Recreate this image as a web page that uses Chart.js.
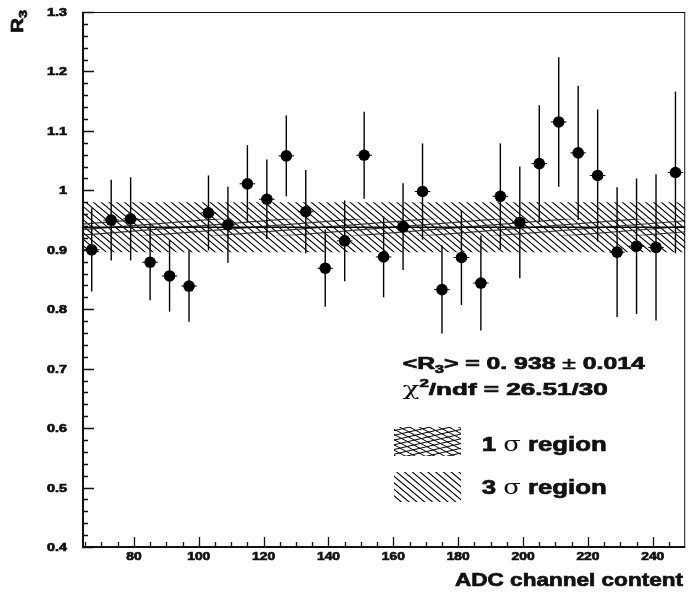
<!DOCTYPE html>
<html>
<head>
<meta charset="utf-8">
<script src="https://cdn.jsdelivr.net/npm/chart.js@4.4.1/dist/chart.umd.min.js"></script>
<style>
  html, body { margin: 0; padding: 0; background: #fff; }
  canvas { display: block; }
</style>
</head>
<body>
<canvas id="myChart" width="691" height="594"></canvas>
<script>
// ADC bins (centres) and R3 ratio with its error
const adcChannel = [67, 73, 79, 85, 91, 97, 103, 109, 115, 121, 127, 133, 139, 145, 151, 157,
    163, 169, 175, 181, 187, 193, 199, 205, 211, 217, 223, 229, 235, 241, 247];
const r3 = [0.900, 0.950, 0.952, 0.879, 0.856, 0.839, 0.962, 0.942, 1.011, 0.985, 1.058, 0.964,
    0.869, 0.915, 1.059, 0.888, 0.939, 0.998, 0.833, 0.887, 0.844, 0.990, 0.946, 1.045,
    1.115, 1.063, 1.025, 0.896, 0.906, 0.904, 1.030];
const r3Err = [0.070, 0.068, 0.070, 0.064, 0.060, 0.060, 0.063, 0.064, 0.065, 0.067, 0.068, 0.070,
    0.065, 0.068, 0.073, 0.068, 0.073, 0.081, 0.074, 0.080, 0.080, 0.089, 0.094, 0.098,
    0.109, 0.113, 0.111, 0.109, 0.114, 0.123, 0.136];
const binHalf = 2.4;
const fitMean = 0.938;
const fitErr = 0.014;
const xTicks = [80, 100, 120, 140, 160, 180, 200, 220, 240];
const yTicks = [0.4, 0.5, 0.6, 0.7, 0.8, 0.9, 1, 1.1, 1.2, 1.3];

const FONT = '"Liberation Sans", Arial, sans-serif';

// draw a run of text pieces [text, font, dy], stretched horizontally by sx
function drawParts(ctx, parts, x, y, sx) {
    let cx = x;
    parts.forEach(p => {
        ctx.font = p[1];
        const w = ctx.measureText(p[0]).width;
        ctx.save();
        ctx.translate(cx, y + (p[2] || 0));
        ctx.scale(sx, 1);
        ctx.textAlign = 'left';
        ctx.fillText(p[0], 0, 0);
        if (p[3] !== false) {
            ctx.lineWidth = 0.7;
            ctx.strokeText(p[0], 0, 0);
        }
        ctx.restore();
        cx += w * sx;
    });
}
function partsWidth(ctx, parts) {
    let w = 0;
    parts.forEach(p => { ctx.font = p[1]; w += ctx.measureText(p[0]).width; });
    return w;
}
function fitParts(ctx, parts, x, y, width) {
    drawParts(ctx, parts, x, y, width / partsWidth(ctx, parts));
}

function hatch(ctx, x0, y0, x1, y1, angleDeg, gap, color, lw) {
    const a = angleDeg * Math.PI / 180;
    const dx = Math.cos(a), dy = Math.sin(a);
    const nx = -dy, ny = dx;
    const cx = (x0 + x1) / 2, cy = (y0 + y1) / 2;
    const diag = Math.hypot(x1 - x0, y1 - y0);
    ctx.save();
    ctx.beginPath();
    ctx.rect(x0, y0, x1 - x0, y1 - y0);
    ctx.clip();
    ctx.strokeStyle = color;
    ctx.lineWidth = lw;
    ctx.beginPath();
    for (let t = -diag / 2; t <= diag / 2; t += gap) {
        const px = cx + nx * t, py = cy + ny * t;
        ctx.moveTo(px - dx * diag, py - dy * diag);
        ctx.lineTo(px + dx * diag, py + dy * diag);
    }
    ctx.stroke();
    ctx.restore();
}

const bandsAndErrors = {
    id: 'bandsAndErrors',
    beforeDatasetsDraw(chart) {
        const ctx = chart.ctx;
        const xs = chart.scales.x, ys = chart.scales.y;
        const a = chart.chartArea;
        // 3 sigma band
        const t3 = ys.getPixelForValue(fitMean + 3 * fitErr);
        const b3 = ys.getPixelForValue(fitMean - 3 * fitErr);
        hatch(ctx, a.left, t3, a.right, b3, 40, 5, '#000', 1.1);
        // 1 sigma band
        const t1 = ys.getPixelForValue(fitMean + fitErr);
        const b1 = ys.getPixelForValue(fitMean - fitErr);
        hatch(ctx, a.left, t1, a.right, b1, -4.5, 5.5, '#333', 1.2);
        ctx.save();
        ctx.strokeStyle = '#000';
        ctx.lineWidth = 1.6;
        const m = ys.getPixelForValue(fitMean);
        ctx.beginPath();
        ctx.moveTo(a.left, m);
        ctx.lineTo(a.right, m);
        ctx.stroke();
        // error bars
        ctx.strokeStyle = '#000';
        adcChannel.forEach((x, i) => {
            const px = xs.getPixelForValue(x);
            const py = ys.getPixelForValue(r3[i]);
            ctx.lineWidth = 1.4;
            ctx.beginPath();
            ctx.moveTo(px, ys.getPixelForValue(r3[i] + r3Err[i]));
            ctx.lineTo(px, ys.getPixelForValue(r3[i] - r3Err[i]));
            ctx.stroke();
            ctx.lineWidth = 1;
            ctx.beginPath();
            ctx.moveTo(xs.getPixelForValue(x - binHalf), py);
            ctx.lineTo(xs.getPixelForValue(x + binHalf), py);
            ctx.stroke();
        });
        ctx.restore();
    },
    afterDraw(chart) {
        const ctx = chart.ctx;
        const xs = chart.scales.x, ys = chart.scales.y;
        const a = chart.chartArea;
        ctx.save();
        ctx.fillStyle = '#111';
        ctx.strokeStyle = '#111';
        // frame
        ctx.lineWidth = 1;
        ctx.strokeRect(a.left + 0.5, a.top + 0.5, a.right - a.left - 1, a.bottom - a.top - 1);
        ctx.lineWidth = 2;
        ctx.beginPath();
        ctx.moveTo(a.left + 1, a.top);
        ctx.lineTo(a.left + 1, a.bottom);
        ctx.lineTo(a.right, a.bottom);
        ctx.stroke();
        // y ticks (inside)
        ctx.lineWidth = 1.3;
        ctx.beginPath();
        for (let v = 0.4; v <= 1.3001; v += 0.02) {
            const py = Math.round(ys.getPixelForValue(v)) + 0.5;
            const major = Math.abs(v * 10 - Math.round(v * 10)) < 1e-6;
            ctx.moveTo(a.left, py);
            ctx.lineTo(a.left + (major ? 12 : 6), py);
        }
        ctx.stroke();
        // x ticks (inside)
        ctx.beginPath();
        for (let v = 65; v < 250; v += 5) {
            const px = Math.round(xs.getPixelForValue(v)) + 0.5;
            const major = v % 20 === 0;
            ctx.moveTo(px, a.bottom);
            ctx.lineTo(px, a.bottom - (major ? 10 : 5));
        }
        ctx.stroke();
        // tick labels
        ctx.textBaseline = 'middle';
        yTicks.forEach(v => {
            const txt = String(v);
            ctx.font = 'bold 11px ' + FONT;
            const w = ctx.measureText(txt).width * 1.3;
            drawParts(ctx, [[txt, 'bold 11px ' + FONT]], 67 - w, ys.getPixelForValue(v) + 1, 1.3);
        });
        xTicks.forEach(v => {
            const txt = String(v);
            ctx.font = 'bold 11.5px ' + FONT;
            const w = ctx.measureText(txt).width * 1.2;
            drawParts(ctx, [[txt, 'bold 11.5px ' + FONT]], xs.getPixelForValue(v) - w / 2, 557, 1.2);
        });
        ctx.textBaseline = 'alphabetic';
        // axis titles
        fitParts(ctx, [['ADC channel content', 'bold 18.5px ' + FONT]], 455, 586, 228);
        ctx.save();
        ctx.translate(23, 33);
        ctx.rotate(-Math.PI / 2);
        fitParts(ctx, [['R', 'bold 16px ' + FONT], ['3', 'bold 11px ' + FONT, 3.5]], 0, 0, 23);
        ctx.restore();
        // fit result
        fitParts(ctx, [['<R', 'bold 17px ' + FONT], ['3', 'bold 11px ' + FONT, 4],
            ['> = 0. 938 ', 'bold 17px ' + FONT], ['\u00b1', '17px ' + FONT],
            [' 0.014', 'bold 17px ' + FONT]], 402.7, 369, 242);
        fitParts(ctx, [['\u03c7', '18px "DejaVu Serif", serif', 0, false], ['2', 'bold 11px ' + FONT, -8],
            ['/ndf = 26.51/30', 'bold 17px ' + FONT]], 402.7, 395, 205);
        // legend
        const l1 = [394, 427, 461, 456];
        hatch(ctx, l1[0], l1[1], l1[2], l1[3], 28, 4.6, '#000', 1);
        hatch(ctx, l1[0], l1[1], l1[2], l1[3], -13, 4.6, '#000', 1);
        const l3 = [394, 472, 461, 502];
        hatch(ctx, l3[0], l3[1], l3[2], l3[3], 40, 5, '#000', 1.1);
        fitParts(ctx, [['1 ', 'bold 20px ' + FONT], ['\u03c3', '20px "DejaVu Serif", serif', 0, false],
            [' region', 'bold 20px ' + FONT]], 481.7, 451, 125);
        fitParts(ctx, [['3 ', 'bold 20px ' + FONT], ['\u03c3', '20px "DejaVu Serif", serif', 0, false],
            [' region', 'bold 20px ' + FONT]], 481.7, 494, 125);
        ctx.restore();
    }
};

const myChart = new Chart(document.getElementById('myChart'), {
    type: 'scatter',
    data: {
        datasets: [{
            label: 'R3',
            data: adcChannel.map((x, i) => ({ x: x, y: r3[i] })),
            pointRadius: 5.8,
            pointHoverRadius: 5.8,
            backgroundColor: '#000',
            borderWidth: 0
        }]
    },
    options: {
        responsive: false,
        animation: false,
        devicePixelRatio: 1,
        layout: { padding: { top: 12, right: 4, left: 0, bottom: 0 } },
        plugins: { legend: { display: false }, tooltip: { enabled: false } },
        scales: {
            x: {
                type: 'linear', min: 64, max: 250,
                grid: { display: false }, border: { display: false },
                ticks: { display: false },
                afterFit(s) { s.height = 47; }
            },
            y: {
                type: 'linear', min: 0.4, max: 1.3,
                grid: { display: false }, border: { display: false },
                ticks: { display: false },
                afterFit(s) { s.width = 82; }
            }
        }
    },
    plugins: [bandsAndErrors]
});
</script>
</body>
</html>
